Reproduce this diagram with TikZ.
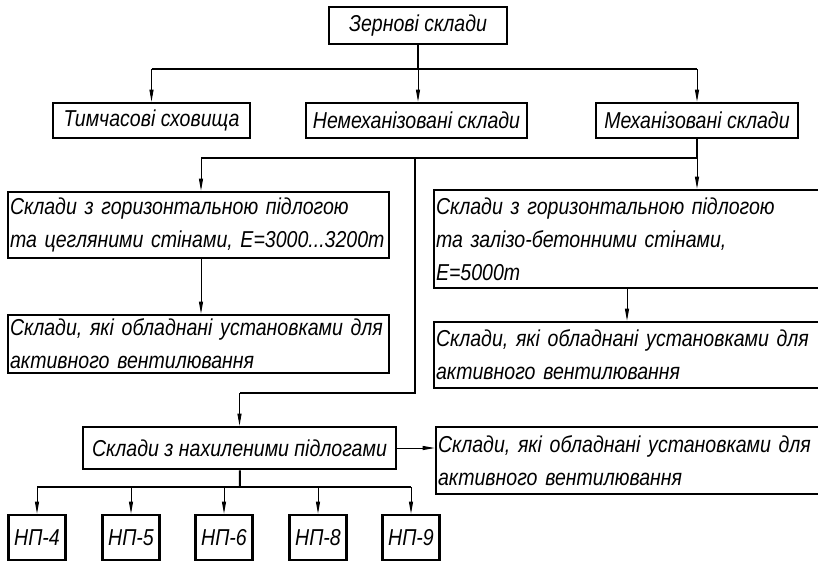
\documentclass[tikz,border=0pt]{standalone}
\usepackage{fontspec}
\setmainfont{Liberation Sans}
\newfontfamily\gostfont{Liberation Sans}[FakeStretch=0.85]
\usetikzlibrary{arrows.meta}

\tikzset{
  box/.style={draw, line width=2.6pt, inner sep=2pt, align=center,
    font=\gostfont\itshape\fontsize{23}{27}\selectfont},
  sbox/.style 2 args={box, minimum width=#1, minimum height=#2},
  lbox/.style 2 args={box, align=left, text width=#1, minimum height=#2,
    font=\gostfont\itshape\fontsize{23}{33}\selectfont},
  bus/.style={line width=2pt},
  arr/.style={-{Triangle[length=12pt,width=4pt]}, line width=0.9pt}
}

\begin{document}
\begin{tikzpicture}[x=1pt,y=-1pt]
\useasboundingbox (0,0) rectangle (818,563);

\node[sbox={178pt}{37pt}] (zern) at (418,25.5) {Зернові склади};
\node[sbox={197pt}{35pt}] (tymch) at (151.5,120.5) {Тимчасові сховища};
\node[sbox={221pt}{35pt}] (nemekh) at (416.5,120.5) {Немеханізовані склади};
\node[sbox={202pt}{35pt}] (mekh) at (697,120.5) {Механізовані склади};

\node[lbox={377pt}{66pt}] (gorcegl) at (198.5,225) {Склади з горизонтальною підлогою\\та цегляними стінами, Е=3000...3200т};
\node[lbox={377pt}{58pt}] (vent1) at (198.5,344) {Склади, які обладнані установками для\\активного вентилювання};
\node[lbox={382pt}{98pt}] (gorbet) at (627,239) {Склади з горизонтальною підлогою\\та залізо-бетонними стінами,\\Е=5000т};
\node[lbox={382pt}{66pt}] (vent2) at (627,355) {Склади, які обладнані установками для\\активного вентилювання};

\node[sbox={313pt}{42pt}] (nakh) at (239.5,448) {Склади з нахиленими підлогами};
\node[lbox={380pt}{67pt}] (vent3) at (628,460.5) {Склади, які обладнані установками для\\активного вентилювання};

\node[sbox={57pt}{45pt}] (np4) at (37,537.5) {НП-4};
\node[sbox={57pt}{45pt}] (np5) at (131,537.5) {НП-5};
\node[sbox={57pt}{45pt}] (np6) at (224,537.5) {НП-6};
\node[sbox={57pt}{45pt}] (np8) at (318,537.5) {НП-8};
\node[sbox={57pt}{45pt}] (np9) at (411,537.5) {НП-9};

% first level
\coordinate (b1) at (418,69);
\draw[bus] (zern) -- (b1);
\draw[bus] (tymch.north |- b1) -- (mekh.north |- b1);
\draw[arr] (tymch.north |- b1) -- (tymch);
\draw[arr] (b1) -- (b1 |- nemekh.north);
\draw[arr] (mekh.north |- b1) -- (mekh);

% mechanized
\coordinate (b2) at (697,158);
\coordinate (b2l) at (201,158);
\coordinate (b3) at (415,158);
\coordinate (b4) at (415,393);
\draw[bus] (mekh) -- (b2);
\draw[bus] (b2l) -- (b2);
\draw[arr] (b2l) -- (b2l |- gorcegl.north);
\draw[arr] (b2) -- (b2 |- gorbet.north);
\draw[arr] (gorcegl.south -| b2l) -- (vent1.north -| b2l);
\draw[arr] (gorbet) -- (vent2);
\draw[bus] (b3) -- (b4) -- (b4 -| nakh.north);
\draw[arr] (b4 -| nakh.north) -- (nakh);

% inclined floors
\draw[arr] (nakh.east) -- (nakh.east -| vent3.west);
\coordinate (b5) at (240,487);
\draw[bus] (nakh) -- (b5);
\draw[bus] (np4.north |- b5) -- (np9.north |- b5);
\foreach \n in {np4,np5,np6,np8,np9}
  \draw[arr] (\n.north |- b5) -- (\n);
\end{tikzpicture}
\end{document}
